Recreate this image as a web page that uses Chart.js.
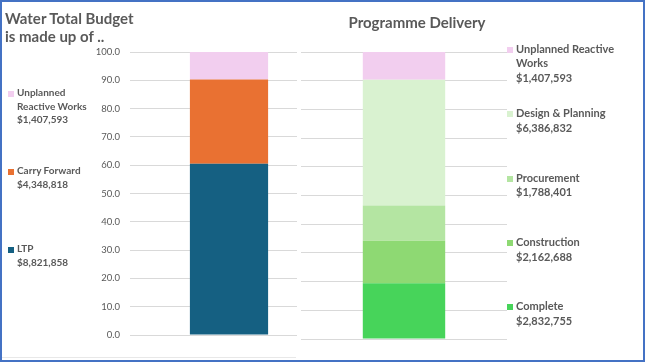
<!DOCTYPE html>
<html>
<head>
<meta charset="utf-8">
<script src="https://cdn.jsdelivr.net/npm/chart.js@4.4.1/dist/chart.umd.min.js"></script>
<style>
    body { margin: 0; background: #fff; }
    #frame { position: relative; width: 645px; height: 362px; overflow: hidden; font-family: Lato, sans-serif; color: #595959; }
    canvas { position: absolute; top: 0; }
    #leftChart { left: 0; }
    #rightChart { left: 297px; background: #fff; }
    .title { position: absolute; font-weight: bold; font-size: 15px; line-height: 18px; }
    #leftTitle { left: 5px; top: 9px; }
    #rightTitle { left: 297px; width: 240px; top: 13px; text-align: center; }
    .legend { position: absolute; top: 0; font-weight: bold; }
    #leftLegend { left: 17px; width: 80px; font-size: 10px; line-height: 13.5px; }
    #rightLegend { left: 516px; width: 120px; font-size: 11px; line-height: 14.7px; }
    .entry { position: absolute; left: 0; width: 100%; }
    .swatch { position: absolute; left: -9px; top: 5px; width: 6px; height: 6px; }
    #shadow { position: absolute; left: 2px; top: 357px; width: 294px; height: 1px; background: #e8e8e8; }
    #border { position: absolute; left: 0; top: 0; width: 645px; height: 362px; box-sizing: border-box; border: 2px solid #4472c4; }
</style>
</head>
<body>
<div id="frame">
    <canvas id="leftChart" width="340" height="362"></canvas>
    <canvas id="rightChart" width="348" height="362"></canvas>
    <div id="shadow"></div>
    <div class="title" id="leftTitle">Water Total Budget<br>is made up of ..</div>
    <div class="title" id="rightTitle">Programme Delivery</div>
    <div class="legend" id="leftLegend"></div>
    <div class="legend" id="rightLegend"></div>
    <div id="border"></div>
</div>
<script>
// left chart: share of total budget (%), bottom to top
const budgetNames = ['LTP', 'Carry Forward', 'Unplanned Reactive Works'];
const budgetAmounts = [8821858, 4348818, 1407593];
const budgetShare = [60.5, 29.8, 9.7];
const budgetColors = ['#156082', '#e97132', '#f2ceef'];

// right chart: programme delivery (%), bottom to top
const deliveryNames = ['Complete', 'Construction', 'Procurement', 'Design & Planning', 'Unplanned Reactive Works'];
const deliveryAmounts = [2832755, 2162688, 1788401, 6386832, 1407593];
const deliveryShare = [19.4, 14.8, 12.3, 43.8, 9.7];
const deliveryColors = ['#47d45a', '#8ed973', '#b4e5a2', '#d9f2d0', '#f2ceef'];

const yTicks = [0, 10, 20, 30, 40, 50, 60, 70, 80, 90, 100];

function makeDatasets(names, share, colors, barPct) {
    return names.map(function (name, i) {
        return {
            label: name,
            data: [share[i]],
            backgroundColor: colors[i],
            barPercentage: barPct,
            categoryPercentage: 1,
        };
    });
}

function buildLegend(el, names, amounts, colors, firstTop, gap) {
    // top entry in the legend is the last series (top of the stack)
    for (let k = names.length - 1, row = 0; k >= 0; k--, row++) {
        const entry = document.createElement('div');
        entry.className = 'entry';
        entry.style.top = (firstTop + row * gap) + 'px';
        const sw = document.createElement('span');
        sw.className = 'swatch';
        sw.style.background = colors[k];
        entry.appendChild(sw);
        const name = document.createElement('div');
        name.textContent = names[k];
        entry.appendChild(name);
        const amt = document.createElement('div');
        amt.textContent = '$' + amounts[k].toLocaleString('en-US');
        entry.appendChild(amt);
        el.appendChild(entry);
    }
}

const grid = { color: '#d9d9d9', drawTicks: false };

new Chart(document.getElementById('leftChart'), {
    type: 'bar',
    data: {
        labels: ['Budget'],
        datasets: makeDatasets(budgetNames, budgetShare, budgetColors, 0.395),
    },
    options: {
        responsive: false,
        animation: false,
        layout: { padding: { top: 52, bottom: 27, right: 12 } },
        plugins: { legend: { display: false }, tooltip: { enabled: false } },
        scales: {
            x: { stacked: true, display: false },
            y: {
                stacked: true,
                min: 0,
                max: 100,
                afterBuildTicks: function (s) { s.ticks = yTicks.map(v => ({ value: v })); },
                afterFit: function (s) { s.width = 130; },
                ticks: {
                    padding: 10,
                    color: '#595959',
                    font: { family: 'Lato', size: 9.5 },
                    callback: v => v.toFixed(1),
                },
                grid: grid,
                border: { display: false },
            },
        },
    },
});

new Chart(document.getElementById('rightChart'), {
    type: 'bar',
    data: {
        labels: ['Delivery'],
        datasets: makeDatasets(deliveryNames, deliveryShare, deliveryColors, 0.4),
    },
    options: {
        responsive: false,
        animation: false,
        layout: { padding: { top: 52, bottom: 23, left: 4, right: 138 } },
        plugins: { legend: { display: false }, tooltip: { enabled: false } },
        scales: {
            x: { stacked: true, display: false },
            y: {
                stacked: true,
                min: 0,
                max: 100,
                afterBuildTicks: function (s) { s.ticks = yTicks.map(v => ({ value: v })); },
                afterFit: function (s) { s.width = 0; },
                ticks: { display: false },
                grid: grid,
                border: { display: false },
            },
        },
    },
});

buildLegend(document.getElementById('leftLegend'), budgetNames, budgetAmounts, budgetColors, 86.4, 78);
buildLegend(document.getElementById('rightLegend'), deliveryNames, deliveryAmounts, deliveryColors, 41.7, 64.4);
</script>
</body>
</html>
